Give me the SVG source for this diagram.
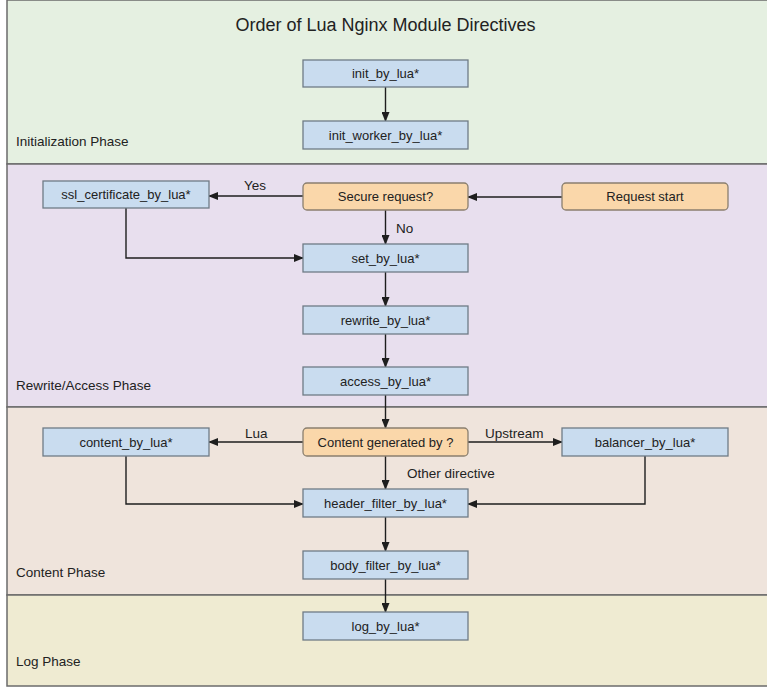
<svg xmlns="http://www.w3.org/2000/svg" width="767" height="688" viewBox="0 0 767 688">
<style>
.band{stroke:#6b6b6b;stroke-width:1.5}
.n rect{fill:#c9dcef;stroke:#6f7b86;stroke-width:1.3}
.d rect{fill:#fad7aa;stroke:#8a7f6f;stroke-width:1.3}
text{font-family:"Liberation Sans",Arial,sans-serif;fill:#222}
.t{font-size:13px;text-anchor:middle}
.lbl{font-size:13.5px}
.ph{font-size:13.5px}
.c path{fill:none;stroke:#1e1e1e;stroke-width:1.4}
</style>
<defs>
<marker id="ah" markerWidth="10" markerHeight="8" refX="9" refY="4" orient="auto" markerUnits="userSpaceOnUse">
<path d="M0,0 L10,4 L0,8 z" fill="#1e1e1e"/>
</marker>
</defs>
<rect width="767" height="688" fill="#ffffff"/>
<g id="bands">
<rect class="band" x="7" y="0" width="770" height="164" fill="#e5f0e1"/>
<rect class="band" x="7" y="164" width="770" height="243" fill="#e8dfee"/>
<rect class="band" x="7" y="407" width="770" height="188" fill="#efe4dc"/>
<rect class="band" x="7" y="595" width="770" height="91" fill="#efebd2"/>
</g>
<text x="385.5" y="31" font-size="18" text-anchor="middle" textLength="300" lengthAdjust="spacingAndGlyphs">Order of Lua Nginx Module Directives</text>
<g id="phases">
<text class="ph" x="16" y="146">Initialization Phase</text>
<text class="ph" x="16" y="390">Rewrite/Access Phase</text>
<text class="ph" x="16" y="577">Content Phase</text>
<text class="ph" x="16" y="666">Log Phase</text>
</g>
<g class="c" id="connectors">
<path d="M385.5,87 V121" marker-end="url(#ah)"/>
<path d="M562,197 H468" marker-end="url(#ah)"/>
<path d="M303,196 H209" marker-end="url(#ah)"/>
<path d="M126,208 V258 H303" marker-end="url(#ah)"/>
<path d="M385.5,210 V244" marker-end="url(#ah)"/>
<path d="M385.5,272 V306" marker-end="url(#ah)"/>
<path d="M385.5,334 V367" marker-end="url(#ah)"/>
<path d="M385.5,395 V428" marker-end="url(#ah)"/>
<path d="M303,442 H209" marker-end="url(#ah)"/>
<path d="M468,442 H562" marker-end="url(#ah)"/>
<path d="M385.5,456 V489" marker-end="url(#ah)"/>
<path d="M126,456 V504 H303" marker-end="url(#ah)"/>
<path d="M645,456 V504 H468" marker-end="url(#ah)"/>
<path d="M385.5,517 V551" marker-end="url(#ah)"/>
<path d="M385.5,579 V612" marker-end="url(#ah)"/>
<text class="lbl" x="244" y="190">Yes</text>
<text class="lbl" x="396" y="233">No</text>
<text class="lbl" x="245" y="438">Lua</text>
<text class="lbl" x="485" y="438">Upstream</text>
<text class="lbl" x="407" y="478">Other directive</text>
</g>
<g id="init_by_lua" class="n"><rect x="303" y="60" width="165" height="27"/><text class="t" x="385.5" y="78">init_by_lua*</text></g>
<g id="init_worker_by_lua" class="n"><rect x="303" y="121" width="165" height="28"/><text class="t" x="385.5" y="140">init_worker_by_lua*</text></g>
<g id="ssl_certificate_by_lua" class="n"><rect x="43" y="181" width="166" height="27"/><text class="t" x="126" y="199">ssl_certificate_by_lua*</text></g>
<g id="secure_request" class="d"><rect x="303" y="183" width="165" height="27" rx="4"/><text class="t" x="385.5" y="201">Secure request?</text></g>
<g id="request_start" class="d"><rect x="562" y="183" width="166" height="27" rx="4"/><text class="t" x="645" y="201">Request start</text></g>
<g id="set_by_lua" class="n"><rect x="303" y="244" width="165" height="28"/><text class="t" x="385.5" y="263">set_by_lua*</text></g>
<g id="rewrite_by_lua" class="n"><rect x="303" y="306" width="165" height="28"/><text class="t" x="385.5" y="325">rewrite_by_lua*</text></g>
<g id="access_by_lua" class="n"><rect x="303" y="367" width="165" height="28"/><text class="t" x="385.5" y="386">access_by_lua*</text></g>
<g id="content_by_lua" class="n"><rect x="43" y="428" width="166" height="28"/><text class="t" x="126" y="447">content_by_lua*</text></g>
<g id="content_generated_by" class="d"><rect x="303" y="428" width="165" height="28" rx="4"/><text class="t" x="385.5" y="447" font-size="11.5">Content generated by ?</text></g>
<g id="balancer_by_lua" class="n"><rect x="562" y="428" width="166" height="28"/><text class="t" x="645" y="447">balancer_by_lua*</text></g>
<g id="header_filter_by_lua" class="n"><rect x="303" y="489" width="165" height="28"/><text class="t" x="385.5" y="508">header_filter_by_lua*</text></g>
<g id="body_filter_by_lua" class="n"><rect x="303" y="551" width="165" height="28"/><text class="t" x="385.5" y="570">body_filter_by_lua*</text></g>
<g id="log_by_lua" class="n"><rect x="303" y="612" width="165" height="28"/><text class="t" x="385.5" y="631">log_by_lua*</text></g>
</svg>
